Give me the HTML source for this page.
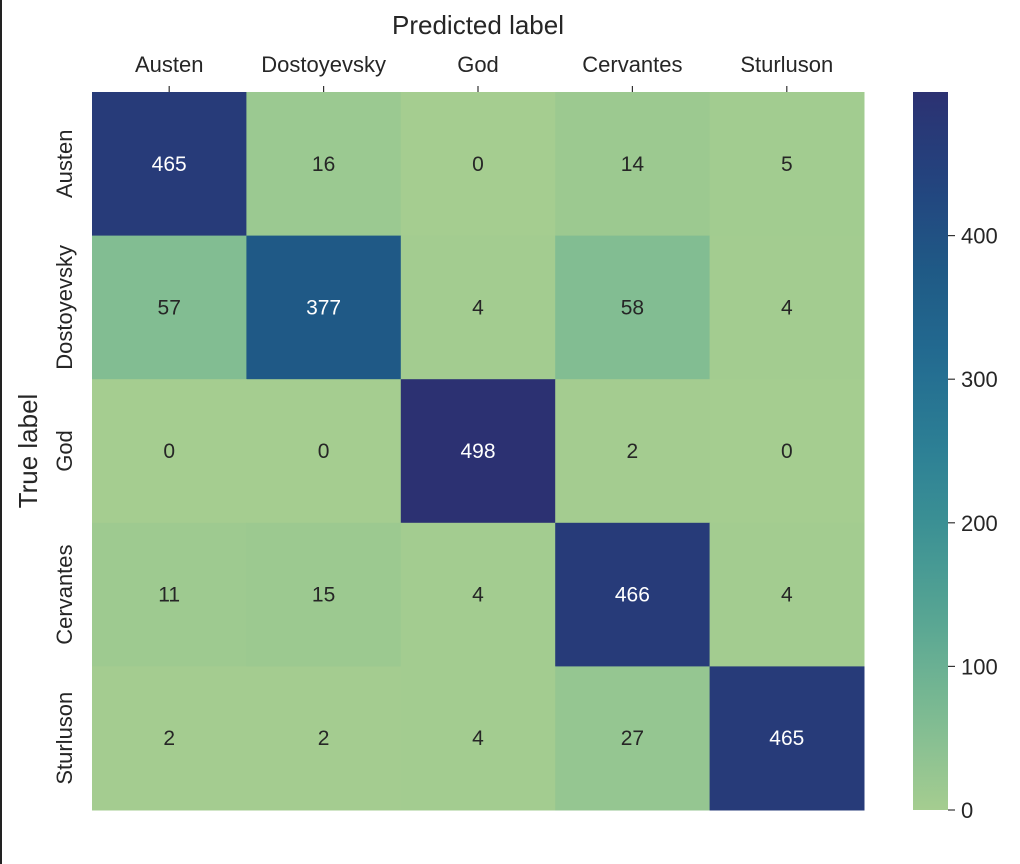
<!DOCTYPE html>
<html><head><meta charset="utf-8"><style>
html,body{margin:0;padding:0;background:#fff;width:1020px;height:864px;overflow:hidden}
svg{display:block;font-family:"Liberation Sans",Arial,sans-serif}
</style></head><body>
<svg id="chart" width="1020" height="864">
<rect x="0" y="0" width="2" height="864" fill="#222"/>
<g id="cells"></g>
<g id="xt"></g>
<g id="yt"></g>
<text x="478" y="34" font-size="26" fill="#262626" text-anchor="middle">Predicted label</text>
<text transform="translate(37,451) rotate(-90)" font-size="26" fill="#262626" text-anchor="middle">True label</text>
<defs><linearGradient id="cg" x1="0" y1="1" x2="0" y2="0"></linearGradient></defs>
<rect id="cbar" x="913" y="92" width="35" height="718" fill="url(#cg)"/>
<g id="ct"></g>
</svg>
<script>
const labels = ["Austen","Dostoyevsky","God","Cervantes","Sturluson"];
const row0 = [465,16,0,14,5];
const row1 = [57,377,4,58,4];
const row2 = [0,0,498,2,0];
const row3 = [11,15,4,466,4];
const row4 = [2,2,4,27,465];
const cbTicks = [0,100,200,300,400];
const rows=[row0,row1,row2,row3,row4];
const vmax=498;
const X0=92,Y0=92,W=772,H=718;
const cw=W/5, ch=H/5;
const stops=[[0,'#a5cd90'],[0.125,'#7fbc92'],[0.25,'#5ca893'],[0.375,'#3f9494'],[0.5,'#2d8095'],[0.625,'#236c91'],[0.75,'#1f5a86'],[0.875,'#23447f'],[1,'#2c3172']];
function hex(h){return [1,3,5].map(i=>parseInt(h.substr(i,2),16));}
function color(v){const t=Math.max(0,Math.min(1,v/vmax));for(let i=1;i<stops.length;i++){if(t<=stops[i][0]){const a=stops[i-1],b=stops[i];const f=(t-a[0])/(b[0]-a[0]);const ca=hex(a[1]),cb=hex(b[1]);return 'rgb('+ca.map((c,k)=>Math.round(c+(cb[k]-c)*f)).join(',')+')';}}return stops[stops.length-1][1];}
const NS='http://www.w3.org/2000/svg';
function mk(tag,attrs,parent){const e=document.createElementNS(NS,tag);for(const k in attrs)e.setAttribute(k,attrs[k]);parent.appendChild(e);return e;}
const cells=document.getElementById('cells');
rows.forEach((r,i)=>r.forEach((v,j)=>{
 const rc=mk('rect',{x:X0+j*cw,y:Y0+i*ch,width:cw+0.5,height:ch+0.5,fill:color(v)},cells);
 
 
 const t=mk('text',{x:X0+j*cw+cw/2,y:Y0+i*ch+ch/2+7,'font-size':21,'text-anchor':'middle',fill:v/vmax>0.5?'#ffffff':'#262626'},cells);
 t.textContent=v;
 
 
}));
const xt=document.getElementById('xt'), yt=document.getElementById('yt');
labels.forEach((l,j)=>{
 const cx=X0+j*cw+cw/2;
 mk('line',{x1:cx,y1:Y0,x2:cx,y2:Y0-6,stroke:'#333','stroke-width':1.2},xt);
 const t=mk('text',{x:cx,y:72,'font-size':22,'text-anchor':'middle',fill:'#262626'},xt);
 t.textContent=l;
 
 
 const cy=Y0+j*ch+ch/2;
 const u=mk('text',{transform:'translate(72,'+cy+') rotate(-90)','font-size':22,'text-anchor':'middle',fill:'#262626'},yt);
 u.textContent=l;
 
 
});
const g=document.getElementById('cg');
for(let k=0;k<=20;k++){mk('stop',{offset:(k/20),'stop-color':color(k/20*vmax)},g);}
const ct=document.getElementById('ct');
const cbH=718;
cbTicks.forEach(v=>{
 const y=810-v/500*cbH;
 mk('line',{x1:948,y1:y,x2:955,y2:y,stroke:'#333','stroke-width':1.2},ct);
 const t=mk('text',{x:961,y:y+8,'font-size':22,fill:'#262626'},ct);
 t.textContent=v;
 
 
});
</script>
</body></html>
